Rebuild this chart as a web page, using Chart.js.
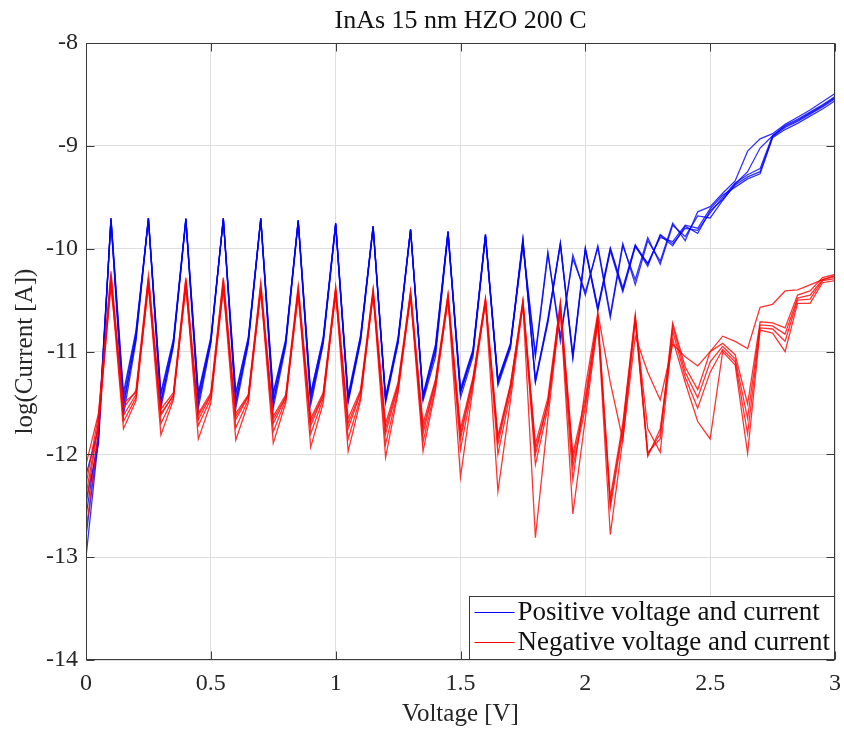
<!DOCTYPE html>
<html>
<head>
<meta charset="utf-8">
<script src="https://cdn.jsdelivr.net/npm/chart.js@4.4.0/dist/chart.umd.min.js"></script>
<style>
    html, body { margin: 0; padding: 0; background: #fff; }
    #wrap { width: 844px; height: 730px; }
</style>
</head>
<body>
<div id="wrap"><canvas id="ivChart" width="844" height="730"></canvas></div>
<script>
// Sweep voltage (V)
const voltage = [
    0, 0.05, 0.1, 0.15, 0.2, 0.25, 0.3, 0.35, 0.4, 0.45,
    0.5, 0.55, 0.6, 0.65, 0.7, 0.75, 0.8, 0.85, 0.9, 0.95,
    1, 1.05, 1.1, 1.15, 1.2, 1.25, 1.3, 1.35, 1.4, 1.45,
    1.5, 1.55, 1.6, 1.65, 1.7, 1.75, 1.8, 1.85, 1.9, 1.95,
    2, 2.05, 2.1, 2.15, 2.2, 2.25, 2.3, 2.35, 2.4, 2.45,
    2.5, 2.55, 2.6, 2.65, 2.7, 2.75, 2.8, 2.85, 2.9, 2.95,
    3
];

// log10 of current, positive sweeps
const posSweep1 = [
    -13.0, -11.85, -9.70, -11.45, -10.82, -9.70, -11.42, -10.90, -9.71, -11.42,
    -10.88, -9.70, -11.42, -10.88, -9.70, -11.42, -10.90, -9.72, -11.40, -10.88,
    -9.75, -11.45, -10.85, -9.78, -11.45, -10.88, -9.81, -11.43, -10.95, -9.83,
    -11.38, -11.00, -9.86, -11.28, -10.93, -9.90, -11.27, -10.70, -9.94, -11.03,
    -9.99, -10.57, -9.99, -10.38, -9.96, -10.15, -9.87, -9.97, -9.78, -9.85,
    -9.63, -9.52, -9.38, -9.30, -9.25, -8.91, -8.82, -8.76, -8.69, -8.62,
    -8.54
];
const posSweep2 = [
    -12.6, -11.80, -9.71, -11.55, -10.85, -9.70, -11.50, -10.92, -9.71, -11.50,
    -10.90, -9.71, -11.48, -10.90, -9.71, -11.48, -10.92, -9.73, -11.45, -10.90,
    -9.76, -11.47, -10.87, -9.78, -11.47, -10.90, -9.81, -11.45, -10.98, -9.84,
    -11.40, -11.02, -9.87, -11.30, -10.95, -9.91, -11.29, -10.68, -9.95, -11.05,
    -10.00, -10.59, -10.00, -10.40, -9.97, -10.17, -9.86, -9.95, -9.80, -9.82,
    -9.65, -9.50, -9.36, -9.28, -9.22, -8.90, -8.81, -8.75, -8.68, -8.61,
    -8.53
];
const posSweep3 = [
    -12.2, -11.75, -9.72, -11.62, -10.90, -9.71, -11.55, -10.95, -9.72, -11.55,
    -10.92, -9.70, -11.55, -10.93, -9.72, -11.55, -10.95, -9.74, -11.52, -10.93,
    -9.77, -11.50, -10.90, -9.80, -11.50, -10.92, -9.82, -11.48, -11.05, -9.85,
    -11.45, -11.05, -9.88, -11.33, -10.97, -9.92, -11.30, -10.72, -9.96, -11.07,
    -10.01, -10.60, -10.02, -10.42, -9.98, -10.14, -9.89, -9.93, -9.77, -9.80,
    -9.61, -9.48, -9.40, -9.32, -9.27, -8.92, -8.84, -8.78, -8.71, -8.64,
    -8.56
];
const posSweep4 = [
    -12.45, -11.90, -9.70, -11.40, -10.80, -9.72, -11.40, -10.88, -9.70, -11.40,
    -10.86, -9.72, -11.40, -10.86, -9.71, -11.40, -10.88, -9.72, -11.42, -10.86,
    -9.75, -11.42, -10.84, -9.79, -11.44, -10.86, -9.81, -11.42, -10.93, -9.83,
    -11.36, -10.98, -9.86, -11.27, -10.92, -9.95, -11.02, -10.03, -10.90, -10.06,
    -10.45, -9.97, -10.64, -9.95, -10.35, -9.92, -10.12, -9.75, -9.92, -9.64,
    -9.59, -9.46, -9.34, -9.05, -8.93, -8.88, -8.79, -8.72, -8.65, -8.57,
    -8.49
];
const posSweep5 = [
    -12.8, -11.82, -9.73, -11.50, -10.88, -9.70, -11.48, -10.93, -9.72, -11.46,
    -10.90, -9.71, -11.50, -10.90, -9.70, -11.50, -10.90, -9.73, -11.48, -10.90,
    -9.76, -11.47, -10.88, -9.78, -11.47, -10.90, -9.82, -11.45, -11.00, -9.84,
    -11.40, -11.00, -9.87, -11.30, -10.94, -9.98, -11.05, -10.05, -10.85, -10.10,
    -10.42, -9.99, -10.67, -9.97, -10.30, -9.89, -10.15, -9.77, -9.88, -9.68,
    -9.70, -9.53, -9.37, -9.25, -9.02, -8.90, -8.80, -8.74, -8.67, -8.60,
    -8.52
];

// log10 of current, negative sweeps
const negSweep1 = [
    -12.30, -11.62, -10.22, -11.55, -11.38, -10.26, -11.56, -11.40, -10.28, -11.60,
    -11.40, -10.28, -11.60, -11.42, -10.33, -11.63, -11.42, -10.36, -11.65, -11.40,
    -10.37, -11.65, -11.37, -10.39, -11.70, -11.30, -10.41, -11.70, -11.27, -10.44,
    -11.75, -11.25, -10.48, -11.82, -11.32, -10.50, -11.90, -11.45, -10.52, -12.00,
    -11.45, -10.65, -12.42, -11.70, -10.64, -12.00, -11.80, -10.72, -11.15, -11.37,
    -11.00, -10.92, -11.03, -11.51, -10.71, -10.72, -10.77, -10.45, -10.41, -10.28,
    -10.25
];
const negSweep2 = [
    -12.50, -11.70, -10.25, -11.62, -11.42, -10.28, -11.62, -11.42, -10.30, -11.66,
    -11.43, -10.30, -11.66, -11.44, -10.35, -11.70, -11.45, -10.38, -11.72, -11.43,
    -10.38, -11.75, -11.40, -10.40, -11.80, -11.34, -10.42, -11.80, -11.30, -10.45,
    -11.85, -11.28, -10.49, -11.90, -11.35, -10.51, -11.95, -11.50, -10.53, -12.05,
    -11.50, -10.67, -12.47, -11.74, -10.66, -11.98, -11.85, -10.75, -11.20, -11.45,
    -11.10, -10.95, -11.07, -11.65, -10.74, -10.75, -10.83, -10.48, -10.45, -10.30,
    -10.27
];
const negSweep3 = [
    -12.75, -11.78, -10.28, -11.68, -11.45, -10.30, -11.70, -11.45, -10.32, -11.72,
    -11.46, -10.33, -11.74, -11.47, -10.38, -11.78, -11.47, -10.40, -11.80, -11.46,
    -10.40, -11.85, -11.44, -10.42, -11.90, -11.38, -10.44, -11.88, -11.34, -10.47,
    -11.95, -11.32, -10.50, -12.00, -11.40, -10.52, -12.10, -11.55, -10.55, -12.12,
    -11.55, -10.70, -12.52, -11.78, -10.68, -11.75, -11.98, -10.80, -11.25, -11.55,
    -11.20, -10.98, -11.10, -11.80, -10.77, -10.78, -10.90, -10.50, -10.49, -10.31,
    -10.29
];
const negSweep4 = [
    -12.10, -11.60, -10.32, -11.75, -11.48, -10.34, -11.81, -11.47, -10.35, -11.85,
    -11.50, -10.37, -11.86, -11.50, -10.40, -11.89, -11.50, -10.43, -11.93, -11.50,
    -10.42, -11.97, -11.47, -10.44, -12.03, -11.40, -10.46, -11.97, -11.37, -10.49,
    -12.22, -11.35, -10.52, -12.36, -11.48, -10.54, -12.81, -11.65, -10.58, -12.58,
    -11.65, -10.72, -12.78, -11.85, -10.70, -12.02, -11.75, -10.88, -11.30, -11.68,
    -11.85, -11.00, -11.13, -11.99, -10.79, -10.82, -11.00, -10.53, -10.53, -10.33,
    -10.31
];
const negSweep5 = [
    -12.40, -11.68, -10.37, -11.50, -11.40, -10.37, -11.60, -11.43, -10.38, -11.62,
    -11.42, -10.40, -11.63, -11.43, -10.43, -11.66, -11.44, -10.46, -11.68, -11.42,
    -10.45, -11.70, -11.39, -10.46, -11.75, -11.32, -10.48, -11.75, -11.29, -10.50,
    -11.80, -11.27, -10.53, -11.85, -11.33, -10.55, -12.00, -11.50, -10.62, -12.25,
    -11.35, -10.62, -11.30, -11.86, -10.85, -11.20, -11.47, -10.93, -11.05, -11.14,
    -11.00, -10.85, -10.90, -10.97, -10.57, -10.54, -10.41, -10.40, -10.35, -10.30,
    -10.26
];

const xTickValues = [0, 0.5, 1, 1.5, 2, 2.5, 3];
const xTickLabels = ['0', '0.5', '1', '1.5', '2', '2.5', '3'];
const yTickValues = [-14, -13, -12, -11, -10, -9, -8];
const yTickLabels = ['-14', '-13', '-12', '-11', '-10', '-9', '-8'];
const legendLabels = ['Positive voltage and current', 'Negative voltage and current'];

const FONT = "'Liberation Serif', 'Times New Roman', serif";
const TEXT = '#262626';
const BLUE = 'rgba(0, 0, 255, 0.8)';
const RED = 'rgba(255, 0, 0, 0.8)';

const toPoints = ys => voltage.map((v, i) => ({ x: v, y: ys[i] }));

function sweepDataset(ys, color, order) {
    return {
        data: toPoints(ys),
        borderColor: color,
        borderWidth: 1.3,
        pointRadius: 0,
        tension: 0,
        fill: false,
        order: order
    };
}

// MATLAB style box, inward ticks and legend inside the axes
const matlabFrame = {
    id: 'matlabFrame',
    afterDraw(chart) {
        const { ctx, chartArea: a, scales: { x, y } } = chart;
        const L = Math.round(a.left) + 0.5, R = Math.round(a.right) - 0.5;
        const T = Math.round(a.top) + 0.5, B = Math.round(a.bottom) - 0.5;
        const tick = 8;
        ctx.save();
        ctx.strokeStyle = '#3a3a3a';
        ctx.lineWidth = 1;
        ctx.beginPath();
        xTickValues.forEach(v => {
            const px = Math.round(x.getPixelForValue(v)) + 0.5;
            ctx.moveTo(px, B); ctx.lineTo(px, B - tick);
            ctx.moveTo(px, T); ctx.lineTo(px, T + tick);
        });
        yTickValues.forEach(v => {
            const py = Math.round(y.getPixelForValue(v)) + 0.5;
            ctx.moveTo(L, py); ctx.lineTo(L + tick, py);
            ctx.moveTo(R, py); ctx.lineTo(R - tick, py);
        });
        ctx.stroke();
        ctx.strokeRect(L, T, R - L, B - T);

        // legend
        const w = 365, h = 63;
        const lx = R - w, ly = B - h;
        ctx.fillStyle = '#fff';
        ctx.fillRect(lx, ly, w, h);
        ctx.strokeStyle = '#3a3a3a';
        ctx.strokeRect(lx, ly, w, h);
        ctx.font = '27px ' + FONT;
        ctx.textBaseline = 'middle';
        ctx.textAlign = 'left';
        [BLUE, RED].forEach((c, i) => {
            const yy = ly + 16 + i * 30;
            ctx.strokeStyle = c.replace('0.8', '1');
            ctx.beginPath();
            ctx.moveTo(lx + 5, yy); ctx.lineTo(lx + 45, yy);
            ctx.stroke();
            ctx.fillStyle = '#111';
            ctx.fillText(legendLabels[i], lx + 48, yy);
        });
        ctx.restore();
    }
};

new Chart(document.getElementById('ivChart'), {
    type: 'line',
    data: {
        datasets: [
            ...[negSweep1, negSweep2, negSweep3, negSweep4, negSweep5].map(s => sweepDataset(s, RED, 0)),
            ...[posSweep1, posSweep2, posSweep3, posSweep4, posSweep5].map(s => sweepDataset(s, BLUE, 1))
        ]
    },
    options: {
        responsive: false,
        animation: false,
        devicePixelRatio: 1,
        parsing: false,
        layout: { padding: { left: 0, right: 9, top: 0, bottom: 0 } },
        plugins: {
            legend: { display: false },
            tooltip: { enabled: false },
            title: {
                display: true,
                text: 'InAs 15 nm HZO 200 C',
                fullSize: false,
                color: '#111',
                font: { family: FONT, size: 26, weight: 'normal' },
                padding: { top: 6, bottom: 6 }
            }
        },
        scales: {
            x: {
                type: 'linear',
                min: 0,
                max: 3,
                afterBuildTicks: s => { s.ticks = xTickValues.map(v => ({ value: v })); },
                afterFit: s => { s.height = 70; s.paddingLeft = 0; s.paddingRight = 0; },
                grid: { color: '#dedede', drawTicks: false },
                border: { display: false },
                ticks: {
                    color: TEXT,
                    font: { family: FONT, size: 24 },
                    padding: 9,
                    maxRotation: 0,
                    autoSkip: false,
                    callback: (v, i) => xTickLabels[i]
                },
                title: {
                    display: true,
                    text: 'Voltage [V]',
                    color: TEXT,
                    font: { family: FONT, size: 25 },
                    padding: { top: 0, bottom: 1 }
                }
            },
            y: {
                type: 'linear',
                min: -14,
                max: -8,
                afterBuildTicks: s => { s.ticks = yTickValues.map(v => ({ value: v })); },
                afterFit: s => { s.width = 86; s.paddingTop = 0; s.paddingBottom = 0; },
                grid: { color: '#dedede', drawTicks: false },
                border: { display: false },
                ticks: {
                    color: TEXT,
                    font: { family: FONT, size: 24 },
                    padding: 8,
                    autoSkip: false,
                    callback: (v, i) => yTickLabels[i]
                },
                title: {
                    display: true,
                    text: 'log(Current [A])',
                    color: TEXT,
                    font: { family: FONT, size: 25 },
                    padding: { top: 10, bottom: 0 }
                }
            }
        }
    },
    plugins: [matlabFrame]
});
</script>
</body>
</html>
